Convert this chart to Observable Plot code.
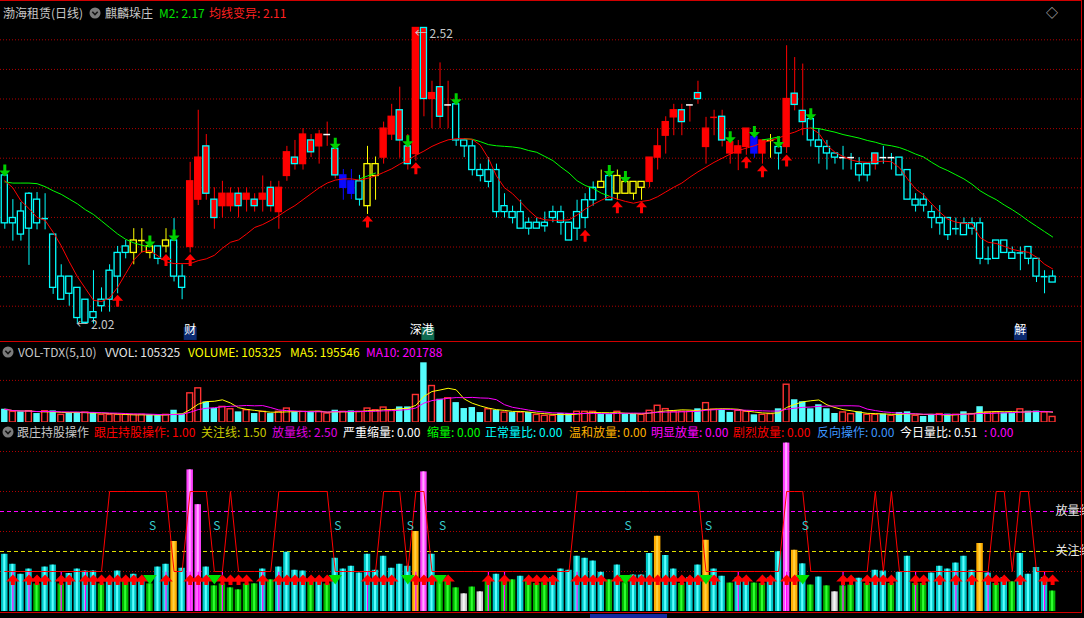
<!DOCTYPE html>
<html><head><meta charset="utf-8">
<script src="https://cdn.jsdelivr.net/npm/d3@7"></script>
<script src="https://cdn.jsdelivr.net/npm/@observablehq/plot@0.6"></script>
<style>
html,body{margin:0;padding:0;background:#000;}
#wrap{position:relative;width:1084px;height:618px;background:#000;overflow:hidden;font-family:"Noto Sans CJK SC","Noto Sans",sans-serif;font-size:12px;}
.t{position:absolute;white-space:nowrap;line-height:14px;font-size:12px;}
.ln{position:absolute;background:#d00000;}
svg.pane{position:absolute;left:0;overflow:hidden;}
</style></head><body><div id="wrap"></div>
<script>
// ---------------- DATA ----------------
const kind = ["c","c","c","c","c","cd","c","c","c","c",
 "c","c","c","c","c","c","y","yd","y","c",
 "y","c","c","r","r","rc","rc","r","r","rc",
 "r","rc","r","rc","r","r","rc","r","rc","r",
 "wr","rc","b","b","c","y","y","r","r","rc",
 "rc","r","rc","r","rc","wr","c","c","c","c",
 "c","c","c","c","c","c","c","c","c","c",
 "c","c","c","c","y","c","y","y","y","y",
 "r","r","r","r","rc","wr","rc","r","rd","rc",
 "r","r","r","b","r","yd","c","r","rc","rc",
 "c","c","c","c","wc","wc","c","c","rc","wc",
 "wc","c","c","c","c","c","c","c","cd","c",
 "c","c","cd","c","c","c","cd","c","c","cd",
 "c"];
const openPrice = [2.271,2.199,2.210,2.240,2.230,2.198,2.171,2.100,2.100,2.081,
 2.061,2.040,2.050,2.061,2.100,2.140,2.140,2.161,2.140,2.151,
 2.151,2.161,2.100,2.150,2.230,2.240,2.230,2.219,2.219,2.240,
 2.230,2.230,2.230,2.250,2.209,2.270,2.301,2.290,2.330,2.320,
 2.340,2.316,2.271,2.261,2.261,2.219,2.270,2.301,2.340,2.381,
 2.320,2.307,2.520,2.400,2.420,2.390,2.391,2.330,2.320,2.280,
 2.280,2.280,2.219,2.209,2.209,2.191,2.191,2.191,2.209,2.209,
 2.191,2.181,2.199,2.229,2.250,2.270,2.240,2.240,2.260,2.250,
 2.260,2.301,2.338,2.369,2.381,2.390,2.400,2.350,2.369,2.370,
 2.308,2.308,2.319,2.336,2.308,2.330,2.319,2.319,2.409,2.380,
 2.366,2.330,2.319,2.308,2.301,2.301,2.290,2.290,2.290,2.301,
 2.301,2.301,2.280,2.230,2.230,2.209,2.199,2.199,2.181,2.190,
 2.190,2.190,2.130,2.161,2.161,2.140,2.140,2.150,2.130,2.100,
 2.100];
const highPrice = [2.281,2.230,2.225,2.242,2.242,2.240,2.171,2.120,2.100,2.081,
 2.061,2.110,2.081,2.120,2.151,2.161,2.181,2.181,2.161,2.151,
 2.181,2.198,2.120,2.293,2.381,2.340,2.250,2.261,2.250,2.250,
 2.250,2.240,2.270,2.261,2.261,2.320,2.330,2.350,2.340,2.347,
 2.361,2.320,2.281,2.281,2.271,2.320,2.302,2.361,2.391,2.420,
 2.340,2.520,2.520,2.430,2.461,2.430,2.400,2.330,2.330,2.290,
 2.301,2.290,2.240,2.219,2.229,2.199,2.199,2.209,2.219,2.219,
 2.191,2.229,2.240,2.260,2.280,2.280,2.280,2.270,2.260,2.260,
 2.301,2.350,2.370,2.391,2.391,2.390,2.430,2.369,2.381,2.381,
 2.335,2.330,2.350,2.350,2.330,2.340,2.330,2.490,2.470,2.459,
 2.380,2.350,2.330,2.308,2.320,2.308,2.301,2.290,2.308,2.320,
 2.308,2.301,2.280,2.240,2.240,2.220,2.220,2.199,2.199,2.199,
 2.199,2.199,2.150,2.161,2.161,2.150,2.150,2.150,2.130,2.110,
 2.110];
const lowPrice = [2.180,2.160,2.160,2.119,2.179,2.179,2.070,2.061,2.050,2.020,
 2.020,2.020,2.040,2.040,2.071,2.130,2.120,2.140,2.130,2.120,
 2.140,2.091,2.061,2.140,2.220,2.229,2.180,2.199,2.209,2.199,
 2.209,2.209,2.209,2.209,2.180,2.261,2.280,2.280,2.301,2.290,
 2.320,2.265,2.229,2.230,2.219,2.205,2.229,2.290,2.330,2.300,
 2.280,2.295,2.370,2.350,2.350,2.350,2.320,2.301,2.270,2.260,
 2.250,2.199,2.199,2.189,2.181,2.170,2.181,2.175,2.191,2.170,
 2.161,2.161,2.181,2.219,2.250,2.229,2.229,2.240,2.229,2.229,
 2.250,2.280,2.307,2.338,2.338,2.361,2.391,2.290,2.338,2.319,
 2.290,2.279,2.305,2.300,2.290,2.300,2.280,2.308,2.380,2.338,
 2.319,2.290,2.280,2.290,2.280,2.280,2.260,2.260,2.280,2.290,
 2.280,2.271,2.230,2.209,2.209,2.181,2.170,2.161,2.170,2.170,
 2.170,2.120,2.120,2.130,2.140,2.130,2.110,2.120,2.090,2.071,
 2.090];
const closePrice = [2.190,2.190,2.171,2.181,2.190,2.198,2.081,2.061,2.071,2.030,
 2.022,2.030,2.061,2.110,2.140,2.151,2.161,2.161,2.151,2.130,
 2.161,2.100,2.081,2.261,2.301,2.320,2.199,2.240,2.240,2.219,
 2.240,2.219,2.240,2.219,2.250,2.310,2.290,2.340,2.310,2.340,
 2.340,2.271,2.250,2.240,2.230,2.290,2.290,2.350,2.370,2.330,
 2.290,2.520,2.400,2.410,2.370,2.390,2.330,2.320,2.280,2.270,
 2.260,2.209,2.209,2.199,2.181,2.181,2.181,2.185,2.199,2.191,
 2.161,2.209,2.229,2.250,2.260,2.229,2.270,2.260,2.240,2.260,
 2.301,2.320,2.361,2.381,2.361,2.390,2.410,2.319,2.369,2.330,
 2.327,2.320,2.350,2.308,2.330,2.330,2.308,2.400,2.390,2.361,
 2.330,2.319,2.308,2.301,2.301,2.301,2.271,2.271,2.308,2.301,
 2.301,2.271,2.230,2.220,2.220,2.199,2.190,2.170,2.181,2.170,
 2.181,2.130,2.130,2.130,2.140,2.130,2.140,2.130,2.100,2.100,
 2.090];
// 均线变异 (red) and M2 (green, drawn only where shown)
const maRed = [2.262,2.250,2.228,2.215,2.200,2.195,2.175,2.152,2.125,2.100,
 2.080,2.060,2.058,2.064,2.082,2.105,2.128,2.142,2.144,2.135,
 2.125,2.122,2.122,2.122,2.127,2.130,2.136,2.148,2.158,2.162,
 2.172,2.183,2.188,2.195,2.203,2.212,2.220,2.230,2.240,2.250,
 2.258,2.263,2.265,2.265,2.263,2.266,2.270,2.276,2.282,2.290,
 2.297,2.305,2.312,2.320,2.326,2.331,2.333,2.333,2.332,2.322,
 2.300,2.270,2.250,2.240,2.226,2.212,2.200,2.196,2.195,2.195,
 2.196,2.204,2.214,2.222,2.229,2.235,2.231,2.227,2.224,2.227,
 2.229,2.235,2.243,2.251,2.258,2.268,2.277,2.285,2.293,2.300,
 2.307,2.313,2.317,2.321,2.326,2.330,2.334,2.340,2.344,2.350,
 2.351,2.342,2.322,2.310,2.303,2.297,2.294,2.293,2.294,2.295,
 2.294,2.284,2.265,2.248,2.238,2.223,2.209,2.197,2.192,2.190,
 2.189,2.166,2.158,2.156,2.151,2.146,2.143,2.141,2.133,2.121,
 2.113];
const maGreen = [2.260,2.258,2.258,2.258,2.257,2.252,2.245,2.239,2.231,2.223,
 2.213,2.205,2.194,2.183,2.172,2.163,2.157,2.153,2.150,null,
 null,null,null,null,null,null,null,null,null,null,
 null,null,null,null,null,null,null,null,null,null,
 null,null,null,null,2.265,2.270,2.275,null,null,null,
 null,null,null,null,null,null,null,2.333,2.332,2.328,
 2.323,2.321,2.320,2.319,2.317,2.313,2.310,2.303,2.296,2.285,
 2.275,2.262,2.254,2.249,2.241,2.236,null,null,null,null,
 null,null,null,null,null,null,null,null,null,null,
 null,null,null,null,2.331,2.333,2.336,null,null,null,
 2.351,2.350,2.347,2.344,2.340,2.337,2.334,2.330,2.327,2.323,
 2.321,2.318,2.313,2.307,2.302,2.293,2.285,2.279,2.272,2.265,
 2.256,2.245,2.237,2.230,2.221,2.213,2.204,2.194,2.185,2.176,
 2.167];
const sellArrowIdx = [0,18,21,41,50,56,75,77,90,93,96,100];
const buyArrowIdx = [14,20,23,45,51,72,76,79,92,94,97];
const priceGrid = [2.05,2.10,2.15,2.20,2.25,2.30,2.35,2.40,2.45,2.50];
const infoIdx = [23,51,126];
const infoText = ["财","深港","解"];
const infoBg = ["#0c2a70","#0e6a50","#0c2a70"];

const volume = [252000,202000,202000,214000,170000,214000,220000,145000,189000,189000,
 189000,189000,145000,145000,145000,145000,145000,145000,145000,132000,
 145000,233000,158000,554000,649000,391000,265000,296000,252000,202000,
 233000,170000,202000,170000,202000,265000,202000,202000,202000,202000,
 170000,233000,202000,220000,202000,265000,233000,284000,233000,296000,
 296000,523000,1134000,693000,441000,460000,378000,265000,284000,189000,
 252000,233000,189000,189000,189000,189000,145000,127000,127000,171000,
 171000,203000,203000,203000,159000,159000,203000,159000,159000,146000,
 222000,318000,254000,203000,203000,203000,260000,368000,241000,235000,
 191000,222000,203000,146000,146000,159000,260000,718000,432000,394000,
 260000,337000,260000,171000,191000,159000,203000,146000,146000,159000,
 127000,191000,203000,127000,114000,146000,159000,159000,146000,203000,
 159000,300000,190000,190150,180000,180000,250000,215000,217405,190000,
 105325];
const volUp = [0,1,0,1,0,1,0,1,0,0, 1,0,1,1,1,1,1,1,0,0,
 1,0,0,1,1,0,0,1,1,0, 1,0,1,0,1,1,0,1,0,1,
 1,0,1,0,1,1,1,1,1,0, 0,1,0,1,0,1,0,0,0,0,
 1,0,1,0,1,0,1,1,1,0, 0,1,1,1,0,0,1,0,0,1,
 1,1,1,1,1,1,0,1,1,0, 0,1,1,0,1,1,0,1,0,0,
 0,0,0,0,1,1,0,1,1,0, 1,0,0,1,0,0,1,0,1,0,
 1,0,1,1,0,0,1,0,0,1, 1];
const volGrid = [800000];

const volRatio = [1.43,1.18,0.93,1.06,0.69,1.11,1.16,0.69,0.95,1.06,
 1.01,1.01,0.69,0.81,1.01,0.79,0.93,0.82,0.69,1.11,
 1.18,1.75,1.08,3.54,2.67,1.11,0.64,0.69,0.59,0.54,
 0.69,0.69,1.06,0.79,1.11,1.48,1.03,1.01,0.79,0.82,
 0.69,1.33,1.06,1.13,0.96,1.43,1.03,1.38,1.08,1.18,
 1.13,2.00,3.49,1.43,0.79,0.79,0.59,0.44,0.61,0.49,
 0.79,0.93,0.79,0.79,0.88,0.79,0.70,0.72,0.85,1.06,
 1.03,1.38,1.33,1.26,0.98,0.79,1.16,0.72,0.91,0.91,
 1.45,1.88,1.40,1.06,0.70,0.85,1.16,1.78,1.06,0.88,
 0.71,0.84,0.83,0.71,0.70,0.84,1.49,4.21,1.53,1.19,
 0.66,0.86,0.64,0.49,0.64,0.66,0.83,0.70,1.03,1.01,
 0.70,0.98,1.38,0.70,0.70,0.96,1.13,1.06,1.21,1.38,
 1.03,1.70,0.96,0.70,0.85,0.74,1.45,0.93,1.10,0.85,
 0.51];
const holdLine = [1,1,1,1,1,1,1,1,1,1, 1,1,1,3,3,3,3,3,3,3,
 3,1,1,3,3,3,1,1,3,1, 1,1,1,1,3,3,3,3,3,3,
 3,1,1,1,1,1,1,3,3,3, 1,3,3,1,1,1,1,1,1,1,
 1,1,1,1,1,1,1,1,1,1, 1,3,3,3,3,3,3,3,3,3,
 3,3,3,3,3,3,3,1,1,1, 1,1,1,1,1,1,1,3,3,3,
 1,1,1,1,1,1,1,1,3,1, 3,1,1,1,1,1,1,1,1,1,
 1,1,1,3,3,1,3,3,1,1, 1];
const ratioGrid = [1,2,3,4];
const watchLine = 1.5, volumeLine = 2.5;
const redTriIdx = [1,3,4,5,7,8,10,11,12,13,14,15,16,17,20,23,24,25,27,28,29,30,32,34,35,36,37,38,39,40,
 45,46,47,48,51,52,53,55,60,62,65,66,67,68,71,72,73,74,76,78,79,80,81,82,83,84,85,86,88,91,92,94,95,97,98,
 104,105,107,108,109,110,113,114,116,118,120,122,123,124,126,129,130];
const greenTriIdx = [18,26,41,50,54,77,87,99];
const sIdx = [18,26,41,50,54,77,87,99];
const magentaIdx = [1,3,7,10,20,23,24,27,32,34,45,51,60,62,71,91,97,104,113,118,122,129];

// ---------------- DRAW ----------------
const N = closePrice.length;
const idx = d3.range(N);
const wrap = document.getElementById("wrap");
const XD = [-0.5335, 133.585];
const FONT = '"Noto Sans CJK SC","Noto Sans",sans-serif';
const candles = idx.map(i => ({i, o: openPrice[i], h: highPrice[i], l: lowPrice[i], c: closePrice[i], k: kind[i]}));
const bodyFill = {r:"#ff0000", rc:"#ff0000", c:"#000000", y:"#000000", b:"#0a0aff"};
const bodyStroke = {r:"#ff0000", rc:"#00ffff", c:"#00ffff", y:"#ffff00", b:"#0a0aff"};
const wickColor = {r:"#ff0000", rc:"#ff0000", c:"#00ffff", y:"#ffff00", b:"#0a0aff", wr:"#ff0000", wc:"#00ffff", cd:"#00ffff", yd:"#ffff00", rd:"#ff0000"};
const tickColor = {wr:"#ffffff", wc:"#ffffff", cd:"#00ffff", yd:"#ffff00", rd:"#ff0000"};

const arrowUp = {draw(ctx){ctx.moveTo(0,-6);ctx.lineTo(5.5,0);ctx.lineTo(1.5,0);ctx.lineTo(1.5,6);ctx.lineTo(-1.5,6);ctx.lineTo(-1.5,0);ctx.lineTo(-5.5,0);ctx.closePath();}};
const arrowDown = {draw(ctx){ctx.moveTo(0,6);ctx.lineTo(5.5,0);ctx.lineTo(1.5,0);ctx.lineTo(1.5,-6);ctx.lineTo(-1.5,-6);ctx.lineTo(-1.5,0);ctx.lineTo(-5.5,0);ctx.closePath();}};
const triUp = {draw(ctx){ctx.moveTo(0,-5.5);ctx.lineTo(6.8,1.5);ctx.lineTo(2,1.5);ctx.lineTo(2,5);ctx.lineTo(-2,5);ctx.lineTo(-2,1.5);ctx.lineTo(-6.8,1.5);ctx.closePath();}};
const triDown = {draw(ctx){ctx.moveTo(-6.8,-5);ctx.lineTo(6.8,-5);ctx.lineTo(0,4.5);ctx.closePath();}};

function place(svg, t){ svg.classList.add("pane"); svg.style.top = t+"px"; svg.style.overflow="hidden"; wrap.appendChild(svg); }

// price pane
const infoRows = infoIdx.map((v, j) => ({i: v, t: infoText[j], bg: infoBg[j], n: infoText[j].length}));
const info1 = infoRows.filter(d => d.n === 1), info2 = infoRows.filter(d => d.n === 2);
const pricePane = Plot.plot({
  width: 1084, height: 341, marginLeft: 0, marginRight: 3, marginTop: 0, marginBottom: 0,
  x: {domain: XD, axis: null}, y: {domain: [1.9904, 2.5664], axis: null},
  color: {type: "identity"},
  style: {background: "#000", fontFamily: FONT, fontSize: "12px"},
  marks: [
    Plot.ruleY(priceGrid, {stroke: "#b00000", strokeDasharray: "1,2"}),
    Plot.ruleX(candles, {x: "i", y1: "l", y2: "h", stroke: d => wickColor[d.k], strokeWidth: 1}),
    Plot.rect(candles.filter(d => bodyFill[d.k]), {x1: d => d.i - 0.38, x2: d => d.i + 0.38,
      y1: d => Math.min(d.o, d.c), y2: d => Math.max(d.o, d.c),
      fill: d => bodyFill[d.k], stroke: d => bodyStroke[d.k], strokeWidth: 1.3}),
    Plot.ruleY(candles.filter(d => tickColor[d.k]), {y: "c", x1: d => d.i - 0.42, x2: d => d.i + 0.42, stroke: d => tickColor[d.k], strokeWidth: 1.5}),
    Plot.line(idx, {x: i => i, y: i => maGreen[i], stroke: "#00ff00", strokeWidth: 1}),
    Plot.line(idx, {x: i => i, y: i => maRed[i], stroke: "#ff0000", strokeWidth: 1}),
    Plot.dot(buyArrowIdx.map(i => candles[i]), {x: "i", y: "l", symbol: arrowUp, r: 6, fill: "#ff0000", stroke: "none", dy: 7}),
    Plot.dot(sellArrowIdx.map(i => candles[i]), {x: "i", y: d => Math.max(d.o, d.c), symbol: arrowDown, r: 6, fill: "#00d000", stroke: "none", dy: -5}),
    Plot.text([candles[d3.maxIndex(highPrice)]], {x: "i", y: "h", text: d => "← " + d.h.toFixed(2), textAnchor: "start", dx: -1, dy: 6, fill: "#c8c8c8", fontSize: 12}),
    Plot.text([candles[d3.minIndex(lowPrice)]], {x: "i", y: "l", text: d => "← " + d.l.toFixed(2), textAnchor: "start", dx: -1, dy: 1, fill: "#c8c8c8", fontSize: 12}),
    // information-mine markers along the bottom of the price pane
    Plot.dot(info1, {x: "i", frameAnchor: "bottom", dy: -8, symbol: "square", r: 7.3, fill: "bg", stroke: "none"}),
    Plot.dot(info2, {x: "i", frameAnchor: "bottom", dy: -8, dx: 12, symbol: "square", r: 7.3, fill: "bg", stroke: "none"}),
    Plot.text(info1, {x: "i", frameAnchor: "bottom", dy: -8, text: "t", fill: "#ffffff", fontSize: 12}),
    Plot.text(info2, {x: "i", frameAnchor: "bottom", dy: -8, dx: 6, text: "t", fill: "#ffffff", fontSize: 12})
  ]
});
place(pricePane, 0);

// volume pane
const vols = idx.map(i => ({i, v: volume[i], up: volUp[i]}));
const volPane = Plot.plot({
  width: 1084, height: 81, marginLeft: 0, marginRight: 3, marginTop: 0, marginBottom: 0,
  x: {domain: XD, axis: null}, y: {domain: [0, 1539000], axis: null},
  style: {background: "#000", fontFamily: FONT},
  marks: [
    Plot.ruleY(volGrid, {stroke: "#b00000", strokeDasharray: "1,2"}),
    Plot.rect(vols.filter(d => !d.up), {x1: d => d.i - 0.4, x2: d => d.i + 0.4, y1: 0, y2: "v", fill: "#54fcfc"}),
    Plot.rect(vols.filter(d => d.up), {x1: d => d.i - 0.36, x2: d => d.i + 0.36, y1: 0, y2: "v", fill: "none", stroke: "#ff3232", strokeWidth: 1.4}),
    Plot.line(vols, Plot.windowY({k: 5, anchor: "end"}, {x: "i", y: "v", stroke: "#ffff00", strokeWidth: 1})),
    Plot.line(vols, Plot.windowY({k: 10, anchor: "end"}, {x: "i", y: "v", stroke: "#ff00ff", strokeWidth: 1}))
  ]
});
place(volPane, 341);

// ratio pane
const ratioCls = v => v < 0.5 ? ["#d0d0d0","#f6f6f6"] : v < 0.8 ? ["#00b800","#30ff30"] : v < 1.5 ? ["#00c8c8","#5cffff"] : v < 2.5 ? ["#ffae00","#ffd040"] : ["#ff40ff","#ffa8ff"];
const rb = idx.map(i => ({i, v: volRatio[i], col: ratioCls(volRatio[i])}));
const ratioPane = Plot.plot({
  width: 1084, height: 196, marginLeft: 0, marginRight: 3, marginTop: 0, marginBottom: 0,
  x: {domain: XD, axis: null}, y: {domain: [-0.175, 4.725], axis: null},
  color: {type: "identity"},
  style: {background: "#000", fontFamily: FONT, fontSize: "12px"},
  marks: [
    Plot.ruleY(ratioGrid, {stroke: "#b00000", strokeDasharray: "1,2"}),
    Plot.ruleY([volumeLine], {stroke: "#ff00ff", strokeDasharray: "4,3", strokeWidth: 1.2}),
    Plot.ruleY([watchLine], {stroke: "#e0e000", strokeDasharray: "4,3", strokeWidth: 1.2}),
    Plot.rect(rb, {x1: d => d.i - 0.4, x2: d => d.i + 0.4, y1: 0, y2: "v", fill: d => d.col[0]}),
    Plot.rect(rb, {x1: d => d.i - 0.13, x2: d => d.i + 0.13, y1: 0, y2: "v", fill: d => d.col[1]}),
    Plot.ruleX(magentaIdx, {x: d => d, y1: 0, y2: 0.98, stroke: "#ff00ff", strokeWidth: 1.2}),
    Plot.line(idx, {x: i => i, y: i => holdLine[i], stroke: "#ff0000", strokeWidth: 1}),
    Plot.dot(redTriIdx, {x: d => d, y: () => 0.79, symbol: triUp, r: 6, fill: "#ff0000", stroke: "none"}),
    Plot.dot(greenTriIdx, {x: d => d, y: () => 0.79, symbol: triDown, r: 6, fill: "#00e000", stroke: "none"}),
    Plot.text(sIdx, {x: d => d, y: () => 2.14, text: () => "S", textAnchor: "start", dx: -1, fill: "#38cccc", fontSize: 12}),
    Plot.text(["放量线"], {frameAnchor: "right", y: () => volumeLine, text: d => d, textAnchor: "start", dx: -26, fill: "#e8e8e8", fontSize: 12}),
    Plot.text(["关注线"], {frameAnchor: "right", y: () => watchLine, text: d => d, textAnchor: "start", dx: -26, fill: "#e8e8e8", fontSize: 12})
  ]
});
place(ratioPane, 422);

// frame lines
function frameLine(l, t, w, h, c){ const d = document.createElement("div"); d.className = "ln"; Object.assign(d.style, {left: l+"px", top: t+"px", width: w+"px", height: h+"px"}); if (c) d.style.background = c; wrap.appendChild(d); }
frameLine(0, 0, 1081, 1);
frameLine(0, 341, 1081, 1);
frameLine(0, 612, 1081, 1);
frameLine(1081, 0, 1, 613);
frameLine(590, 614, 77, 4, "#1428a0");

// headers
function icon(l, t){ const ns = "http://www.w3.org/2000/svg"; const s = document.createElementNS(ns, "svg"); s.setAttribute("width", 12); s.setAttribute("height", 12); s.style.position = "absolute"; s.style.left = l+"px"; s.style.top = t+"px";
  s.innerHTML = '<circle cx="6" cy="6" r="5.5" fill="#7c7c7c"/><path d="M3.3 4.8 L6 7.6 L8.7 4.8" stroke="#151515" stroke-width="1.6" fill="none"/>'; wrap.appendChild(s); }
function txt(l, t, s, c){ const d = document.createElement("div"); d.className = "t"; d.style.left = l+"px"; d.style.top = t+"px"; d.style.color = c; d.textContent = s; wrap.appendChild(d); }
const ma5 = d3.mean(volume.slice(-5)), ma10 = d3.mean(volume.slice(-10));
txt(3, 6, "渤海租赁(日线)", "#c8c8c8");
icon(89, 7);
txt(105, 6, "麒麟垛庄", "#c8c8c8");
txt(159, 6, "M2: " + maGreen[N-1].toFixed(2), "#00e000");
txt(209, 6, "均线变异: " + maRed[N-1].toFixed(2), "#ff2020");
txt(1046, 6, "◇", "#c8c8c8");
icon(2, 346);
txt(18, 345, "VOL-TDX(5,10)", "#c8c8c8");
txt(105, 345, "VVOL: " + volume[N-1], "#e6e6e6");
txt(188, 345, "VOLUME: " + volume[N-1], "#ffff00");
txt(290, 345, "MA5: " + Math.round(ma5), "#ffff00");
txt(366, 345, "MA10: " + Math.round(ma10), "#ff00ff");
icon(2, 426);
const bh = [[17,"跟庄持股操作","#c8c8c8"],[94,"跟庄持股操作: " + holdLine[N-1].toFixed(2),"#ff0000"],[201,"关注线: " + watchLine.toFixed(2),"#c8c800"],
 [272,"放量线: " + volumeLine.toFixed(2),"#e000e0"],[343,"严重缩量: 0.00","#ffffff"],[427,"缩量: 0.00","#00ff00"],[485,"正常量比: 0.00","#00ffff"],
 [569,"温和放量: 0.00","#ffb000"],[651,"明显放量: 0.00","#ff00ff"],[733,"剧烈放量: 0.00","#ff0000"],[817,"反向操作: 0.00","#3c96ff"],
 [900,"今日量比: " + volRatio[N-1].toFixed(2),"#ffffff"],[984,": 0.00","#ff00ff"]];
bh.forEach(([l, s, c]) => txt(l, 425, s, c));
</script></body></html>
